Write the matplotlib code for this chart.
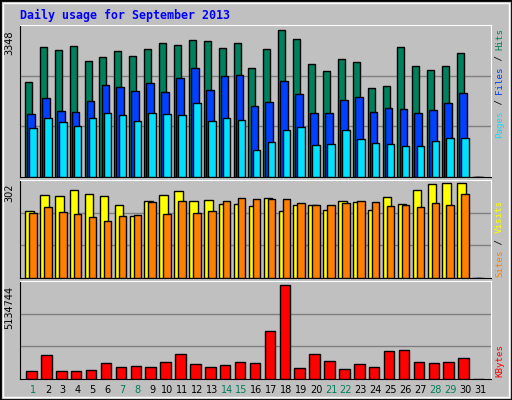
import numpy as np
import matplotlib
matplotlib.use("Agg")
import matplotlib.pyplot as plt
from matplotlib.patches import Rectangle

days = np.arange(1, 32)
hits = [2174, 2962, 2894, 2985, 2644, 2735, 2871, 2757, 2916, 3053, 3007, 3121, 3098, 2939, 3053,
        2485, 2916, 3348, 3144, 2576, 2416, 2689, 2621, 2030, 2076, 2962, 2530, 2439, 2530, 2825, 0]
files = [1439, 1803, 1507, 1485, 1735, 2098, 2053, 1962, 2144, 1939, 2257, 2485, 1985, 2303, 2326,
         1621, 1712, 2189, 1894, 1462, 1462, 1757, 1826, 1485, 1576, 1553, 1462, 1530, 1689, 1916, 0]
pages = [1121, 1348, 1257, 1167, 1348, 1462, 1417, 1280, 1462, 1439, 1417, 1689, 1280, 1348, 1303,
         621, 803, 1076, 1144, 735, 758, 1076, 871, 780, 758, 712, 712, 826, 894, 894, 0]
sites = [214, 266, 263, 282, 269, 263, 233, 197, 246, 266, 279, 246, 250, 237, 237,
         230, 256, 214, 233, 233, 217, 246, 243, 217, 259, 237, 282, 299, 302, 302, 0]
visits = [207, 227, 210, 204, 194, 181, 197, 201, 243, 204, 246, 207, 214, 246, 256,
          253, 253, 253, 240, 233, 233, 240, 246, 243, 230, 233, 227, 240, 233, 269, 0]
kbytes = [412000, 1312000, 412000, 412000, 468000, 862000, 637000, 693000, 637000, 918000, 1368000,
          806000, 637000, 750000, 918000, 862000, 2661000, 5134744, 581000, 1368000, 974000, 525000,
          806000, 637000, 1537000, 1593000, 918000, 862000, 918000, 1143000, 0]
weekend = [1, 7, 8, 14, 15, 21, 22, 28, 29]

W, H = 512, 400
fig = plt.figure(figsize=(W / 100, H / 100), dpi=100)
fig.patch.set_facecolor("#C0C0C0")
fig.add_artist(Rectangle((0, 0), 1, 1, transform=fig.transFigure, fill=False, lw=2, ec="black"))
fig.add_artist(Rectangle((3 / W, 3 / H), 1 - 6 / W, 1 - 6 / H, transform=fig.transFigure,
                         fill=False, lw=1, ec="white"))
fig.text(20 / W, 1 - 15 / H, "Daily usage for September 2013", color="#0000FF",
         family="DejaVu Sans Mono", weight="bold", fontsize=8.4, va="center")


def panel(top, bottom):
    ax = fig.add_axes([20 / W, 1 - bottom / H, 471 / W, (bottom - top) / H])
    ax.set_facecolor("#C0C0C0")
    ax.set_xlim(0.128, 31.74)
    ax.set_xticks([])
    ax.set_yticks([])
    for s in ["top", "right"]:
        ax.spines[s].set_color("white")
    for s in ["left", "bottom"]:
        ax.spines[s].set_color("black")
    return ax


def bars(ax, vals, lo, hi, color):
    d = np.array(days)
    ax.bar(d + (lo + hi) / 2, vals, width=hi - lo, color=color, ec="black", lw=1, zorder=3)


def grid(ax, top):
    ax.set_ylim(0, top)
    for g in (top / 3, 2 * top / 3):
        ax.axhline(g, color="#808080", lw=1, zorder=1)


ax1 = panel(25, 177)
grid(ax1, 3348 * 147 / 142)
bars(ax1, hits, -0.54, -0.07, "#00805C")
bars(ax1, files, -0.4, 0.12, "#0040FF")
bars(ax1, pages, -0.25, 0.25, "#00E0FF")
ax1.text(-0.012, 3348, "3348", transform=ax1.get_yaxis_transform(), rotation=90,
         ha="right", va="top", fontsize=7)

ax2 = panel(180, 278)
grid(ax2, 302 * 287 / 277)
bars(ax2, sites, -0.52, 0.05, "#FFFF00")
bars(ax2, visits, -0.25, 0.25, "#FF8000")
ax2.text(-0.012, 302, "302", transform=ax2.get_yaxis_transform(), rotation=90,
         ha="right", va="top", fontsize=7)

ax3 = panel(281, 379)
grid(ax3, 5134744 * 287 / 274)
bars(ax3, kbytes, -0.45, 0.25, "#FF0000")
ax3.text(-0.012, 5134744, "5134744", transform=ax3.get_yaxis_transform(), rotation=90,
         ha="right", va="top", fontsize=7)

for d in days:
    ax3.text(d, -0.06, str(d), transform=ax3.get_xaxis_transform(), ha="center", va="top",
             fontsize=7, color="#00805C" if d in weekend else "black")


def side(ybottom, parts):
    # rotated label at right edge, stacked from pixel ybottom upward
    y = ybottom
    for txt, col in parts:
        fig.text(495 / W, 1 - y / H, txt, rotation=90, ha="left", va="bottom",
                 fontsize=6.6, color=col, family="DejaVu Sans Mono")
        y -= len(txt) * 5.5


side(138, [("Pages", "#00E0FF"), (" / ", "black"), ("Files", "#0040FF"), (" / ", "black"), ("Hits", "#00805C")])
side(277, [("Sites", "#FF8000"), (" / ", "black"), ("Visits", "#FFFF00")])
side(377, [("KBytes", "#FF0000")])

fig.savefig("out.png", dpi=100, facecolor=fig.get_facecolor())
